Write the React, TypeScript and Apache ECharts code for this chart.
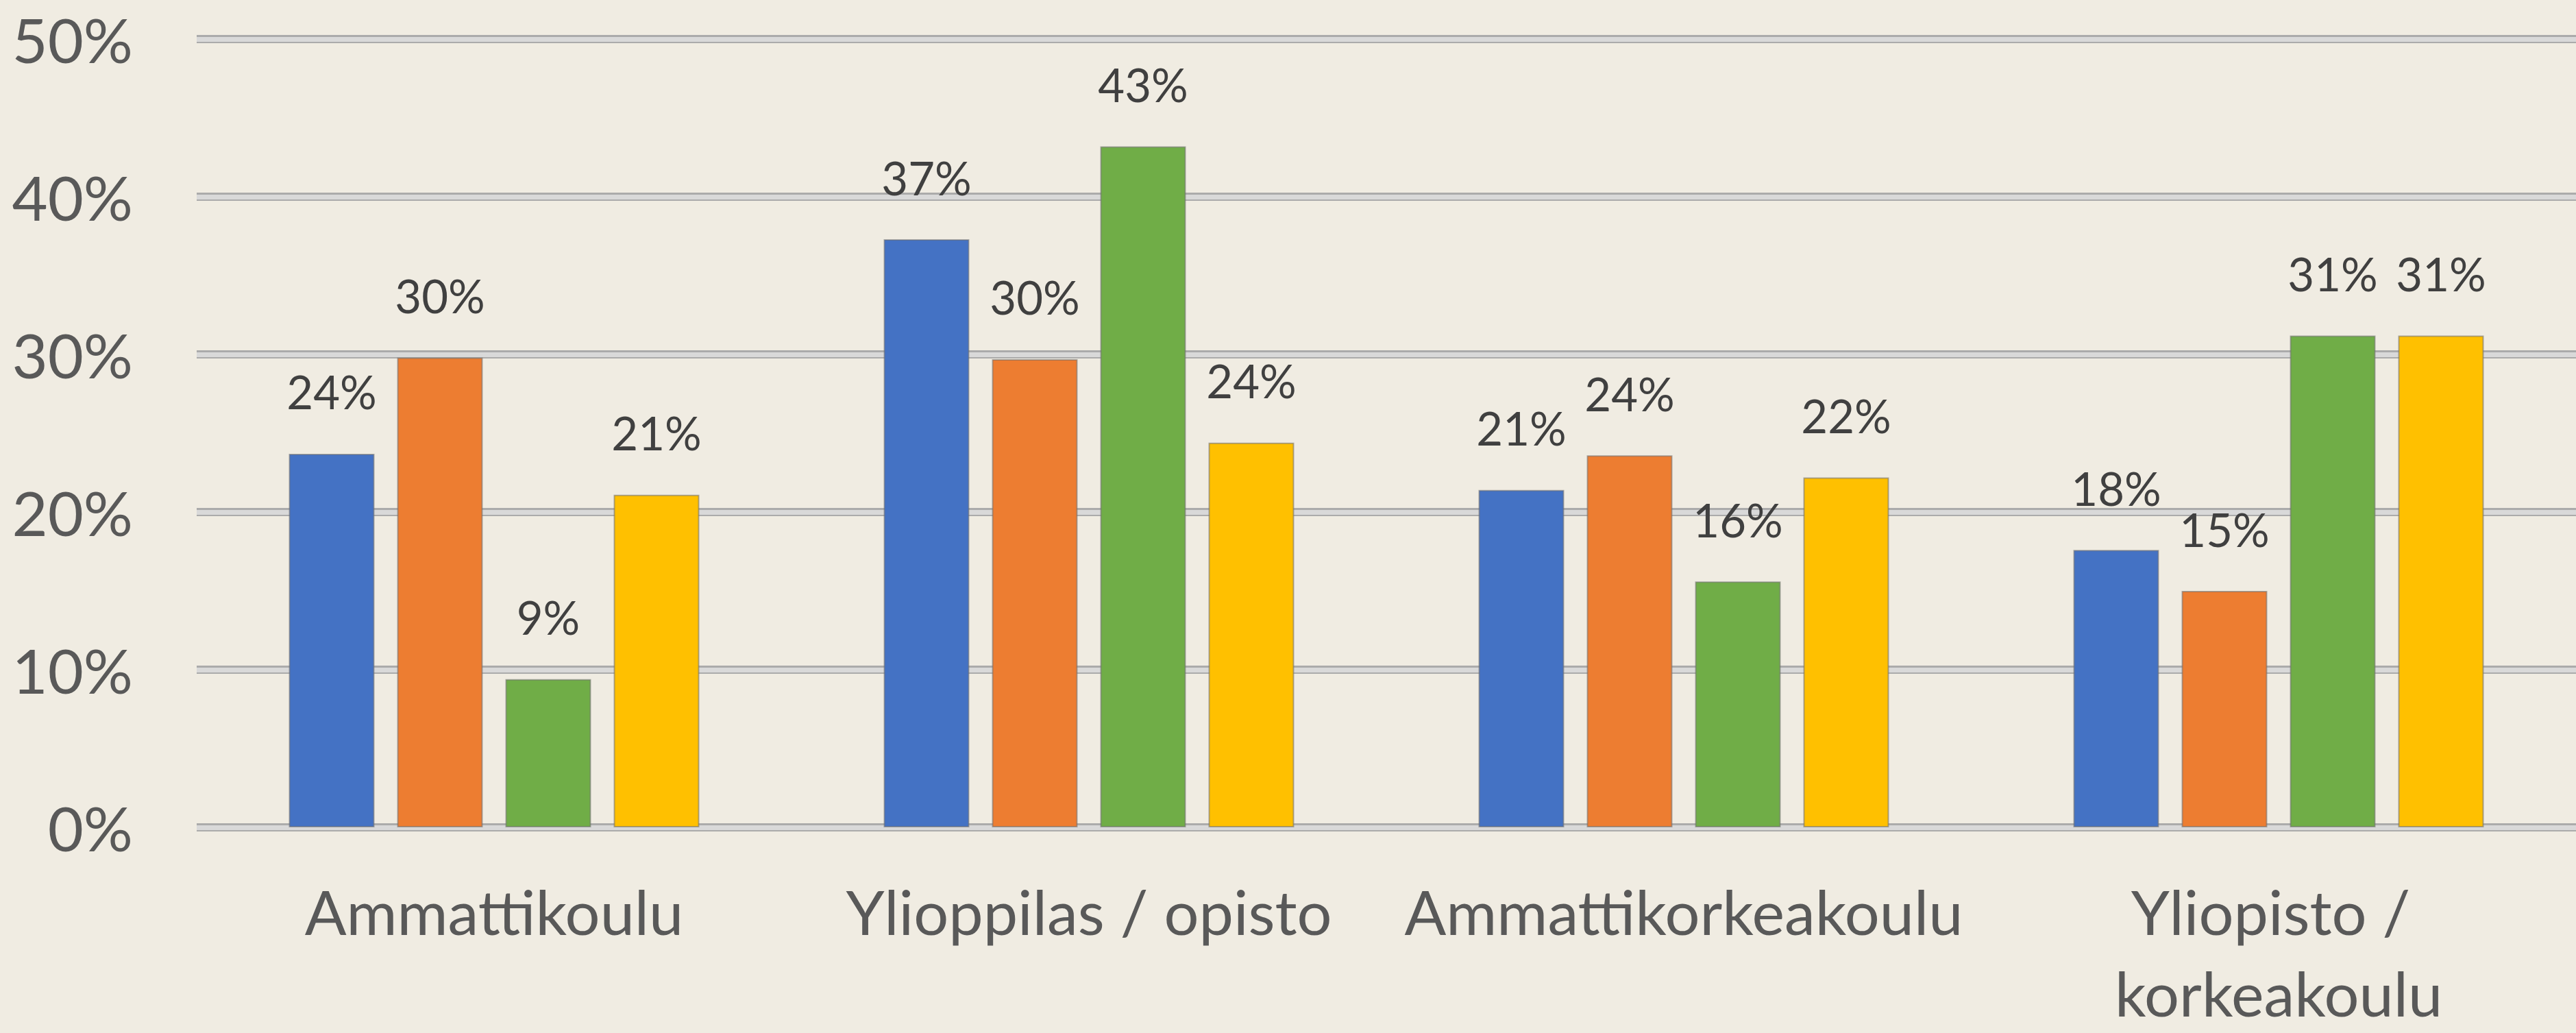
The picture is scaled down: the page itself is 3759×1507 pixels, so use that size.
import React, { useEffect, useRef } from "react";
import * as echarts from "echarts";

const categories = ["Ammattikoulu", "Ylioppilas / opisto", "Ammattikorkeakoulu", "Yliopisto / korkeakoulu"];
const seriesNames = ["Sarja 1", "Sarja 2", "Sarja 3", "Sarja 4"];
const blueValues = [23.7, 37.3, 21.4, 17.6];
const orangeValues = [29.8, 29.7, 23.6, 15.0];
const greenValues = [9.4, 43.2, 15.6, 31.2];
const yellowValues = [21.1, 24.4, 22.2, 31.2];
const seriesColors = ["#4472C4", "#ED7D31", "#70AD47", "#FFC000"];
const yTicks = { min: 0, max: 50, interval: 10 };

export default function App() {
  const ref = useRef<HTMLDivElement>(null);
  useEffect(() => {
    document.body.style.margin = "0";
    document.body.style.background = "#F0ECE2";
    const chart = echarts.init(ref.current!, null, { renderer: "svg" });
    const allValues = [blueValues, orangeValues, greenValues, yellowValues];
    const font = "Lato, 'Open Sans', sans-serif";
    chart.setOption({
      animation: false,
      backgroundColor: "#F0ECE2",
      grid: { left: 287, right: -8, top: 57, bottom: 286, containLabel: false },
      xAxis: {
        type: "category",
        data: categories,
        axisLine: { show: false },
        axisTick: { show: false },
        axisLabel: {
          interval: 0,
          color: "#595959",
          fontFamily: font,
          fontSize: 90,
          lineHeight: 119,
          margin: 62,
          width: 860,
          overflow: "break",
        },
      },
      yAxis: [
        {
          type: "value",
          ...yTicks,
          axisLine: { show: false },
          axisTick: { show: false },
          axisLabel: {
            formatter: "{value}%",
            color: "#595959",
            fontFamily: font,
            fontSize: 90,
            margin: 93,
            padding: [0, 0, 14, 0],
          },
          splitLine: { show: true, lineStyle: { color: "#ABABAB", width: 12 } },
        },
        {
          type: "value",
          ...yTicks,
          position: "left",
          axisLine: { show: false },
          axisTick: { show: false },
          axisLabel: { show: false },
          splitLine: { show: true, lineStyle: { color: "#D9D9D9", width: 7 } },
        },
      ],
      series: allValues.map((vals, i) => ({
        type: "bar",
        name: seriesNames[i],
        yAxisIndex: 0,
        data: vals,
        barWidth: 125,
        barGap: "26.4%",
        itemStyle: { color: seriesColors[i], borderColor: "rgba(110,110,110,0.55)", borderWidth: 2 },
        label: {
          show: true,
          position: "top",
          distance: 57,
          color: "#404040",
          fontFamily: font,
          fontSize: 67,
          lineHeight: 67,
          formatter: (p: any) => Math.round(p.value) + "%",
        },
      })),
    });
    return () => chart.dispose();
  }, []);
  return (
    <div
      ref={ref}
      style={{ position: "absolute", left: 0, top: 0, width: 3759, height: 1507, background: "#F0ECE2" }}
    />
  );
}
